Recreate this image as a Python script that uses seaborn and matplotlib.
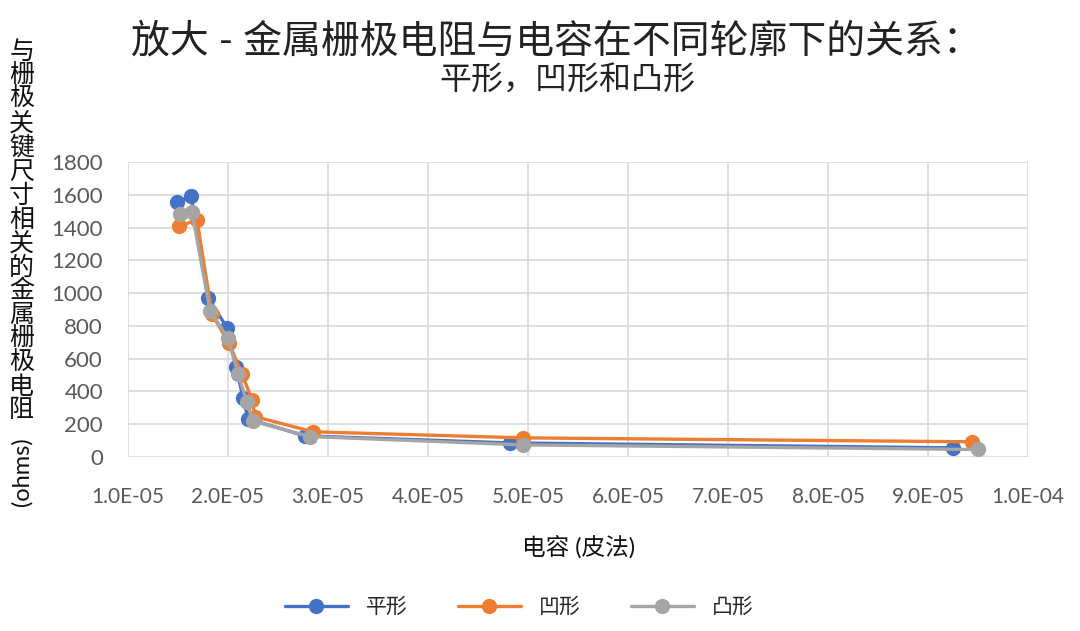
import matplotlib
matplotlib.use("Agg")
import matplotlib.pyplot as plt
import seaborn as sns
import pandas as pd

# values
flat_cap = [1.49e-5, 1.63e-5, 1.80e-5, 1.99e-5, 2.08e-5, 2.15e-5, 2.20e-5, 2.77e-5, 4.82e-5, 9.25e-5]
flat_res = [1556, 1593, 972, 789, 551, 362, 232, 128, 85, 55]

concave_cap = [1.51e-5, 1.69e-5, 1.84e-5, 2.01e-5, 2.14e-5, 2.24e-5, 2.27e-5, 2.85e-5, 4.95e-5, 9.44e-5]
concave_res = [1410, 1446, 872, 694, 506, 348, 246, 153, 116, 92]

convex_cap = [1.52e-5, 1.64e-5, 1.82e-5, 2.00e-5, 2.10e-5, 2.19e-5, 2.25e-5, 2.82e-5, 4.95e-5, 9.50e-5]
convex_res = [1481, 1497, 893, 724, 506, 334, 218, 124, 73, 45]

series_names = ["平形", "凹形", "凸形"]
colors = ["#4472C4", "#ED7D31", "#A5A5A5"]
x_ticks = [1e-5 * i for i in range(1, 11)]
y_ticks = list(range(0, 2000, 200))

df = pd.concat([
    pd.DataFrame({"cap": flat_cap, "res": flat_res, "shape": series_names[0]}),
    pd.DataFrame({"cap": concave_cap, "res": concave_res, "shape": series_names[1]}),
    pd.DataFrame({"cap": convex_cap, "res": convex_res, "shape": series_names[2]}),
])

sns.set_style("white")
plt.rcParams["font.family"] = ["Lato", "Noto Sans CJK SC", "DejaVu Sans"]

fig = plt.figure(figsize=(10.8, 6.31), dpi=100)
ax = fig.add_axes([0.1185, 0.276, 0.8335, 0.467])

sns.lineplot(data=df, x="cap", y="res", hue="shape", palette=colors, sort=False,
             marker="o", markersize=11, markeredgewidth=0, linewidth=2.4, ax=ax)

ax.set_xlim(1e-5, 1e-4)
ax.set_ylim(0, 1800)
ax.set_xticks(x_ticks)
ax.set_xticklabels([f"{v:.1E}" for v in x_ticks])
ax.set_yticks(y_ticks)
ax.tick_params(colors="#595959", length=0)
ax.tick_params(axis="x", labelsize=15, pad=22)
ax.tick_params(axis="y", labelsize=16, pad=18)
ax.grid(True, color="#D9D9D9", linewidth=1.2)
for s in ax.spines.values():
    s.set_visible(False)
ax.set_xlabel("电容 (皮法)", fontsize=17, color="#111111", labelpad=21)
ax.set_ylabel("")

fig.text(0.515, 0.935, "放大 - 金属栅极电阻与电容在不同轮廓下的关系：", ha="center", va="center",
         fontsize=28, color="#222222")
fig.text(0.525, 0.873, "平形，凹形和凸形", ha="center", va="center", fontsize=23, color="#222222")

ylab = "与栅极关键尺寸相关的金属栅极电阻"
fig.text(0.02, 0.937, "\n".join(ylab), ha="center", va="top", fontsize=18,
         linespacing=1.04, color="#111111")
fig.text(0.02, 0.252, "(ohms)", ha="center", va="center", rotation=90, fontsize=17, color="#111111")

handles, labels = ax.get_legend_handles_labels()
ax.legend(handles, labels, loc="center", bbox_to_anchor=(0.435, -0.51), ncol=3, frameon=False,
          fontsize=15, handlelength=3.0, columnspacing=2.4, handletextpad=0.9)

fig.savefig("out.png", dpi=100)
